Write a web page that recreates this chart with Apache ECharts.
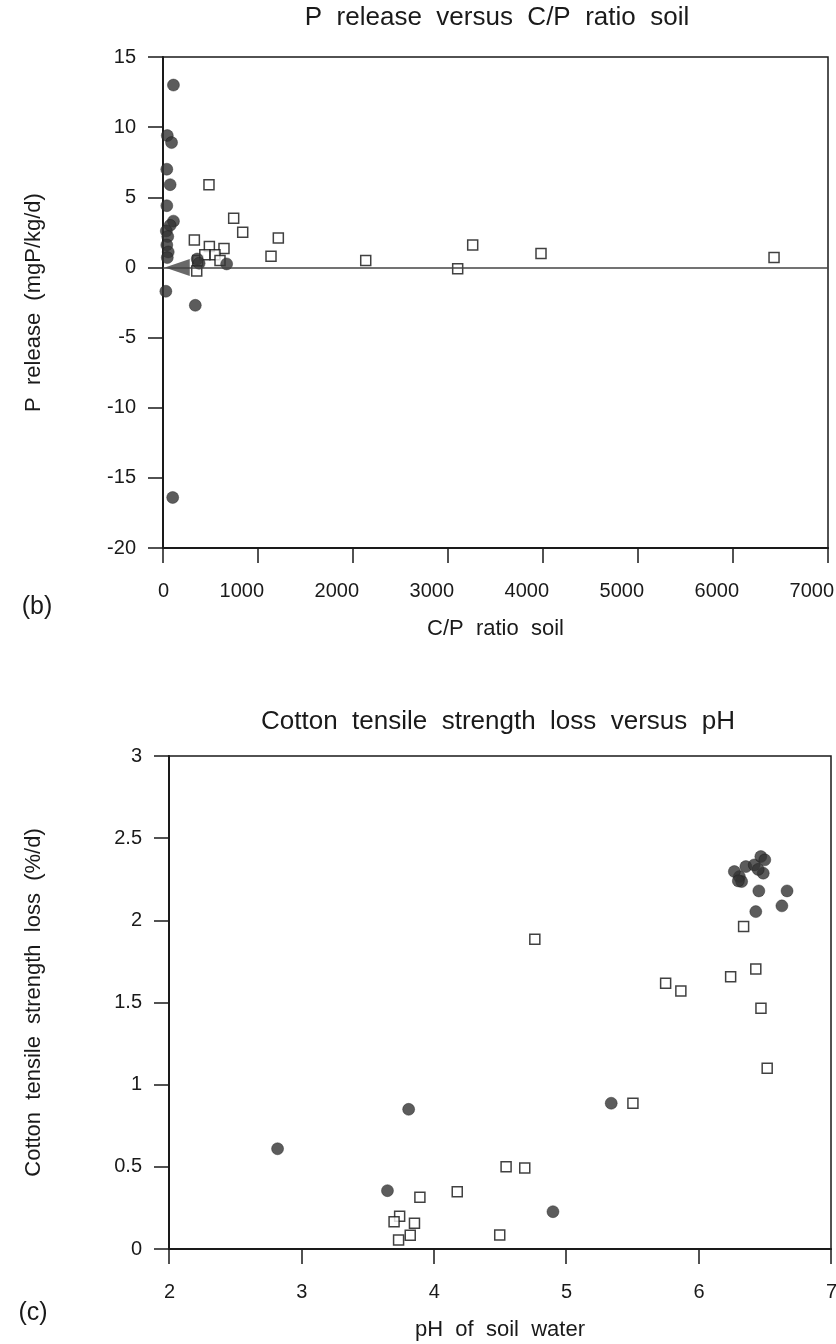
<!DOCTYPE html>
<html>
<head>
<meta charset="utf-8">
<script src="https://cdn.jsdelivr.net/npm/echarts@6/dist/echarts.min.js"></script>
<style>
html, body { margin: 0; padding: 0; background: #fff; }
#chart { width: 836px; height: 1344px; }
</style>
</head>
<body>
<div id="chart"></div>
<script>
// (b) P release vs C/P ratio soil  -> [C/P ratio, P release mgP/kg/d]
let cpCircles = [
    [110, 13.0], [45, 9.4], [90, 8.9], [40, 7.0], [75, 5.9], [40, 4.4],
    [110, 3.3], [75, 3.0], [35, 2.6], [50, 2.2], [40, 1.6], [55, 1.1],
    [45, 0.7], [30, -1.7], [340, -2.7], [102, -16.4], [360, 0.6],
    [380, 0.3], [670, 0.25]
];
let cpSquares = [
    [330, 1.95], [484, 5.9], [744, 3.5], [839, 2.5], [1214, 2.1], [1137, 0.8],
    [2134, 0.5], [3102, -0.1], [3260, 1.6], [3979, 1.0], [6432, 0.7],
    [488, 1.5], [642, 1.35], [547, 0.9], [600, 0.5], [355, -0.25],
    [365, 0.5], [440, 0.9]
];
let cpArrow = [[150, 0]];

// (c) cotton tensile strength loss vs pH -> [pH, %/d]
let phCircles = [
    [2.82, 0.61], [3.81, 0.85], [3.65, 0.355], [4.90, 0.227], [5.34, 0.887],
    [6.455, 2.179], [6.668, 2.179], [6.629, 2.088], [6.432, 2.053],
    [6.308, 2.266], [6.27, 2.297], [6.357, 2.327], [6.42, 2.337], [6.47, 2.388],
    [6.50, 2.368], [6.488, 2.287], [6.325, 2.236], [6.45, 2.31], [6.30, 2.24]
];
let phSquares = [
    [4.763, 1.885], [6.34, 1.962], [6.432, 1.704], [6.242, 1.657], [5.751, 1.617],
    [5.866, 1.570], [6.471, 1.465], [6.518, 1.10], [5.504, 0.887], [4.546, 0.50],
    [4.687, 0.493], [4.177, 0.349], [3.895, 0.315], [3.742, 0.20], [3.70, 0.166],
    [3.854, 0.156], [3.822, 0.083], [3.734, 0.055], [4.498, 0.085]
];

let font = "'Liberation Sans', Arial, sans-serif";
let ink = '#1a1a1a';

function xAx(idx, min, max, step, name) {
    return {
        gridIndex: idx, type: 'value', min: min, max: max, interval: step,
        axisLine: {show: true, onZero: false, lineStyle: {color: ink, width: 2}},
        axisTick: {show: true, inside: false, length: 15, lineStyle: {color: ink, width: 1.5}},
        axisLabel: {fontSize: 20, color: ink, margin: 33, align: 'right', padding: [0, -6, 0, 0],
            formatter: (v) => String(v)},
        splitLine: {show: false},
        name: name, nameLocation: 'middle', nameGap: 70,
        nameTextStyle: {fontSize: 22, color: ink}
    };
}
function yAx(idx, min, max, step, name, gap) {
    return {
        gridIndex: idx, type: 'value', min: min, max: max, interval: step,
        axisLine: {show: true, onZero: false, lineStyle: {color: ink, width: 2}},
        axisTick: {show: true, inside: false, length: 15, lineStyle: {color: ink, width: 1.5}},
        axisLabel: {fontSize: 20, color: ink, margin: 27, formatter: (v) => String(v)},
        splitLine: {show: false},
        name: name, nameLocation: 'middle', nameGap: gap, nameRotate: 90,
        nameTextStyle: {fontSize: 22, color: ink}
    };
}

let dot = {color: '#333', borderColor: '#1a1a1a', borderWidth: 0.5};
let box = {color: '#fff', borderColor: '#111', borderWidth: 1.5};

let chart = echarts.init(document.getElementById('chart'));
chart.setOption({
    backgroundColor: '#fff',
    animation: false,
    textStyle: {fontFamily: font},
    grid: [
        {left: 163, top: 57, width: 665, height: 491, show: true, borderColor: ink, borderWidth: 1.5, outerBoundsMode: 'none'},
        {left: 169, top: 756, width: 662, height: 493, show: true, borderColor: ink, borderWidth: 1.5, outerBoundsMode: 'none'}
    ],
    xAxis: [
        xAx(0, 0, 7000, 1000, 'C/P  ratio  soil'),
        xAx(1, 2, 7, 1, 'pH  of  soil  water')
    ],
    yAxis: [
        yAx(0, -20, 15, 5, 'P  release  (mgP/kg/d)', 118),
        yAx(1, 0, 3, 0.5, 'Cotton  tensile  strength  loss  (%/d)', 124)
    ],
    graphic: [
        {type: 'text', x: 497, y: 18, style: {text: 'P  release  versus  C/P  ratio  soil', fontSize: 26, fontFamily: font, fill: ink, align: 'center', verticalAlign: 'middle'}},
        {type: 'text', x: 498, y: 722, style: {text: 'Cotton  tensile  strength  loss  versus  pH', fontSize: 26, fontFamily: font, fill: ink, align: 'center', verticalAlign: 'middle'}},
        {type: 'text', x: 37, y: 607, style: {text: '(b)', fontSize: 25, fontFamily: font, fill: ink, align: 'center', verticalAlign: 'middle'}},
        {type: 'text', x: 33, y: 1313, style: {text: '(c)', fontSize: 25, fontFamily: font, fill: ink, align: 'center', verticalAlign: 'middle'}}
    ],
    series: [
        {
            name: 'zero', type: 'scatter', xAxisIndex: 0, yAxisIndex: 0, data: [],
            markLine: {silent: true, symbol: 'none', label: {show: false},
                lineStyle: {color: '#444', width: 1.5, type: 'solid'}, data: [{yAxis: 0}]}
        },
        {type: 'scatter', xAxisIndex: 0, yAxisIndex: 0, symbol: 'rect', symbolSize: 10, itemStyle: box, data: cpSquares},
        {type: 'scatter', xAxisIndex: 0, yAxisIndex: 0, symbol: 'circle', symbolSize: 12, itemStyle: dot, data: cpCircles},
        {type: 'scatter', xAxisIndex: 0, yAxisIndex: 0, symbol: 'triangle', symbolSize: [17, 25], symbolRotate: 90,
            itemStyle: {color: '#444'}, data: cpArrow},
        {type: 'scatter', xAxisIndex: 1, yAxisIndex: 1, symbol: 'rect', symbolSize: 10, itemStyle: box, data: phSquares},
        {type: 'scatter', xAxisIndex: 1, yAxisIndex: 1, symbol: 'circle', symbolSize: 12, itemStyle: dot, data: phCircles}
    ]
});
</script>
</body>
</html>
